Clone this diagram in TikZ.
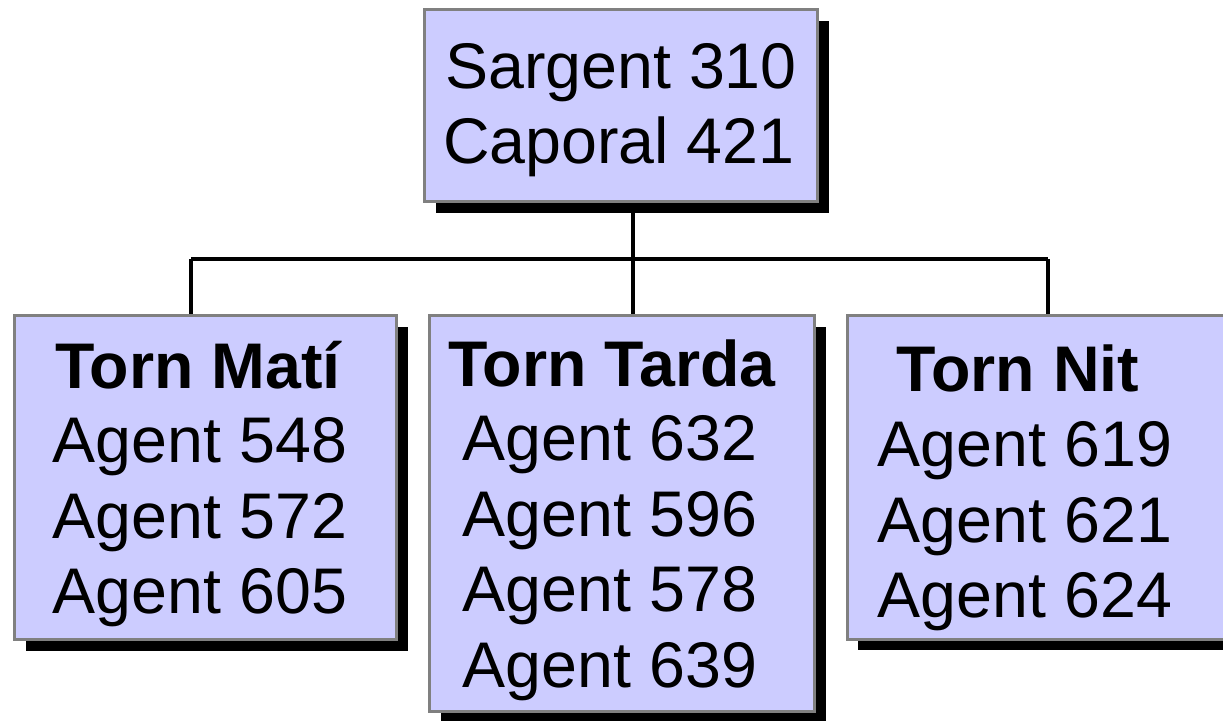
\documentclass[tikz,border=0pt]{standalone}
\usepackage{fontspec}
\setmainfont{Liberation Sans}
\usetikzlibrary{shadows}
\definecolor{boxfill}{HTML}{CCCCFF}
\definecolor{boxline}{HTML}{808080}
\pgfdeclarelayer{background}
\pgfsetlayers{background,main}
\tikzset{
  orgbox/.style={draw=boxline, line width=3pt, fill=boxfill, rectangle, inner sep=0pt,
    drop shadow={shadow xshift=11pt, shadow yshift=-11pt, fill=black, opacity=1}},
  conn/.style={draw=black, line width=4pt},
  txt/.style={anchor=base, inner sep=0pt, font=\fontsize{64.5}{75}\selectfont},
  btxt/.style={txt, font=\fontsize{64.5}{75}\selectfont\bfseries}
}
\begin{document}
\begin{tikzpicture}[x=1pt, y=-1pt]
\useasboundingbox (0,0) rectangle (1223,720);
% bus coordinates
\coordinate (jc) at (633,259);
\coordinate (jl) at (191,259);
\coordinate (jr) at (1048,259);
% boxes
\node[orgbox, minimum width=393pt, minimum height=192pt] (top) at (621,105.5) {};
\node[orgbox, minimum width=382pt, minimum height=324pt] (left) at (205.5,477.5) {};
\node[orgbox, minimum width=385pt, minimum height=396pt] (mid) at (622,513.5) {};
\node[orgbox, minimum width=382pt, minimum height=324pt] (right) at (1038,477) {};
% connectors (behind boxes)
\begin{pgfonlayer}{background}
\draw[conn] (jc |- top.south) -- (jc);
\draw[conn] (jl) -- (jr);
\draw[conn] (jl) -- (jl |- left.north);
\draw[conn] (jc) -- (jc |- mid.north);
\draw[conn] (jr) -- (jr |- right.north);
\end{pgfonlayer}
% top text
\node[txt] (t1) at (621,88) {Sargent 310};
\node[txt] (t2) at (619,163) {Caporal 421};
% left text
\node[btxt] (l0) at (198,388) {Torn Matí};
\node[txt] (l1) at (200,462) {Agent 548};
\node[txt] (l2) at (200,538) {Agent 572};
\node[txt] (l3) at (200,613) {Agent 605};
% middle text
\node[btxt] (m0) at (612,386) {Torn Tarda};
\node[txt] (m1) at (610,460) {Agent 632};
\node[txt] (m2) at (610,536) {Agent 596};
\node[txt] (m3) at (610,611) {Agent 578};
\node[txt] (m4) at (610,687) {Agent 639};
% right text
\node[btxt] (r0) at (1018,391) {Torn Nit};
\node[txt] (r1) at (1025,466) {Agent 619};
\node[txt] (r2) at (1025,542) {Agent 621};
\node[txt] (r3) at (1025,617) {Agent 624};
\end{tikzpicture}
\end{document}
